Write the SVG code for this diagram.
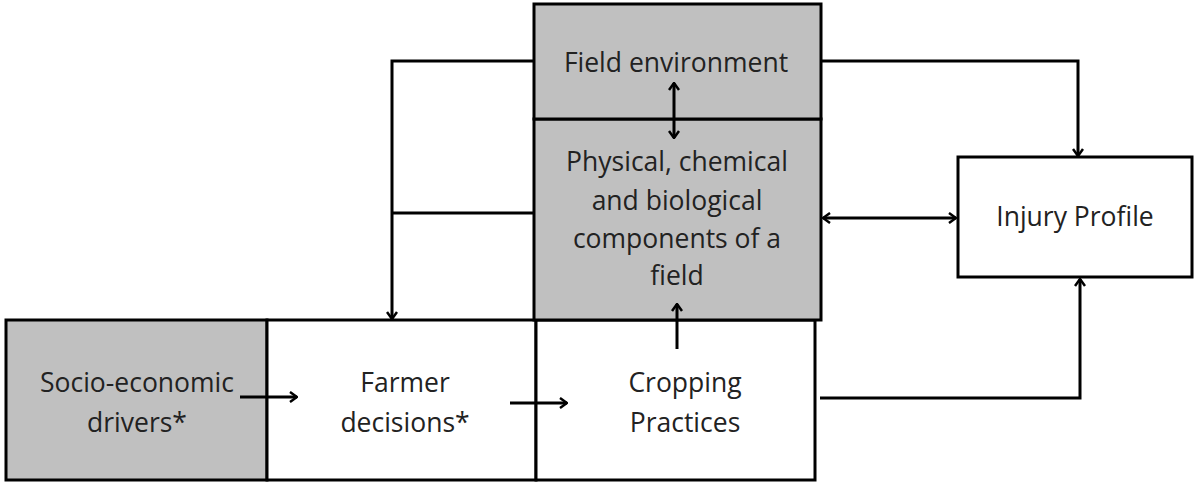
<svg xmlns="http://www.w3.org/2000/svg" width="1195" height="483" viewBox="0 0 1195 483">
<defs>
<marker id="ah" viewBox="0 0 12 12" refX="11" refY="6" markerWidth="12" markerHeight="12" markerUnits="userSpaceOnUse" orient="auto-start-reverse">
<path d="M4,1 L11,6 L4,11" fill="none" stroke="#000" stroke-width="2.5"/>
</marker>
</defs>
<style>
.box{stroke:#000;stroke-width:3}
.g{fill:#c0c0c0}
.w{fill:#fff}
text{font-family:"Open Sans","Liberation Sans",sans-serif;font-size:26.5px;fill:#222;text-anchor:middle}
.c{fill:none;stroke:#000;stroke-width:3}
</style>
<g id="socio"><rect class="box g" x="6" y="320" width="261" height="160"/><text x="137" y="392">Socio-economic</text><text x="137" y="432">drivers*</text></g>
<g id="farmer"><rect class="box w" x="267" y="320" width="269" height="160"/><text x="405" y="392">Farmer</text><text x="405" y="432">decisions*</text></g>
<g id="cropping"><rect class="box w" x="536" y="320" width="279" height="160"/><text x="685" y="392">Cropping</text><text x="685" y="432">Practices</text></g>
<g id="physical"><rect class="box g" x="534" y="119" width="287" height="201"/><text x="677" y="171">Physical, chemical</text><text x="677" y="210">and biological</text><text x="677" y="248">components of a</text><text x="677" y="285">field</text></g>
<g id="fieldenv"><rect class="box g" x="534" y="4" width="287" height="115"/><text x="676" y="72">Field environment</text></g>
<g id="injury"><rect class="box w" x="958" y="157" width="234" height="120"/><text x="1075" y="226">Injury Profile</text></g>
<g id="connectors">
<path class="c" d="M534,61 H392 V319" marker-end="url(#ah)"/>
<path class="c" d="M534,213 H392"/>
<path class="c" d="M821,61 H1078 V156" marker-end="url(#ah)"/>
<path class="c" d="M674,83 V138" marker-start="url(#ah)" marker-end="url(#ah)"/>
<path class="c" d="M823,218 H956" marker-start="url(#ah)" marker-end="url(#ah)"/>
<path class="c" d="M240,397 H297" marker-end="url(#ah)"/>
<path class="c" d="M510,403 H567" marker-end="url(#ah)"/>
<path class="c" d="M677,349 V304" marker-end="url(#ah)"/>
<path class="c" d="M820,398 H1080 V279" marker-end="url(#ah)"/>
</g>
</svg>
